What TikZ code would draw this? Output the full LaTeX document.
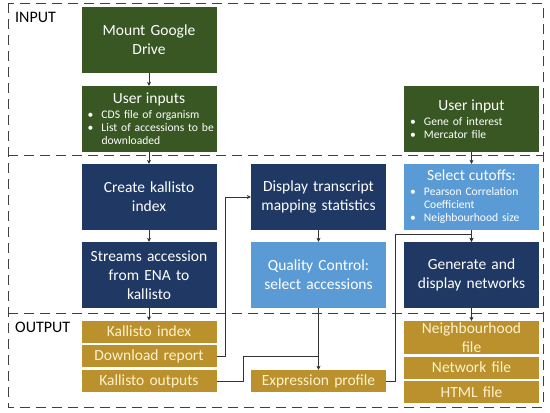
\documentclass[tikz,border=0pt]{standalone}
\usepackage{fontspec}
\setmainfont{Carlito}
\usetikzlibrary{arrows.meta,calc}
\definecolor{inputgreen}{RGB}{56,87,35}
\definecolor{procnavy}{RGB}{31,56,100}
\definecolor{qclight}{RGB}{91,155,213}
\definecolor{outgold}{RGB}{186,145,44}
\definecolor{goldtext}{RGB}{255,242,204}
\definecolor{framegray}{RGB}{64,64,64}
\newcommand{\bitem}[1]{\par\noindent\makebox[20pt][l]{\hspace{6pt}\textbullet}#1}
\newcommand{\bnext}[1]{\par\noindent\hspace*{20pt}#1}
\newcommand{\boxtitle}[1]{{\centering\fontsize{15.5}{19}\selectfont #1\par}\vspace{2pt}}

\begin{document}
\begin{tikzpicture}[x=1pt,y=-1pt,
box/.style={inner sep=0pt, minimum width=135pt, minimum height=66pt, text width=135pt,
align=center, text=white, font=\fontsize{15.5}{19}\selectfont},
greenbox/.style={box, fill=inputgreen},
navybox/.style={box, fill=procnavy},
lightbox/.style={box, fill=qclight},
listbox/.style={align=left, font=\fontsize{11.6}{13}\selectfont},
outbox/.style={box, fill=outgold, text=goldtext, minimum height=22pt},
arrow/.style={-{Stealth[length=4pt,width=4pt]}, line width=0.5pt, draw=black!80},
link/.style={line width=0.5pt, draw=black!80},
frame/.style={draw=framegray, line width=0.8pt, dash pattern=on 10pt off 6pt},
section/.style={font=\fontsize{16}{19}\selectfont, anchor=north west, inner sep=0pt}
]
\useasboundingbox (0,0) rectangle (550,413);

\draw[frame] (8,3) rectangle (543,407);
\draw[frame] (8,155) -- (543,155);
\draw[frame] (8,313) -- (543,313);

\node[section] (inlabel) at (15,12) {INPUT};
\node[section] (outlabel) at (15,322) {OUTPUT};

\node[greenbox] (mount) at (149,39.5) {Mount Google\\Drive};
\node[greenbox, listbox] (uinputs) at (149,119)
{\boxtitle{User inputs}\bitem{CDS file of organism}\bitem{List of accessions to be}\bnext{downloaded}};
\node[greenbox, listbox] (uinput) at (471.5,119)
{\boxtitle{User input}\bitem{Gene of interest}\bitem{Mercator file}};

\node[navybox] (index) at (149,197) {Create kallisto\\index};
\node[navybox] (streams) at (149,275) {Streams accession\\from ENA to\\kallisto};
\node[navybox] (mapstats) at (318.5,197) {Display transcript\\mapping statistics};
\node[lightbox] (qc) at (318.5,275) {Quality Control:\\select accessions};
\node[lightbox, listbox] (cutoffs) at (471.5,197)
{\boxtitle{Select cutoffs:}\bitem{Pearson Correlation}\bnext{Coefficient}\bitem{Neighbourhood size}};
\node[navybox] (networks) at (471.5,275) {Generate and\\display networks};

\node[outbox] (kindex) at (149,331.5) {Kallisto index};
\node[outbox] (dlreport) at (149,356) {Download report};
\node[outbox] (koutputs) at (149,381) {Kallisto outputs};
\node[outbox] (exprof) at (318.5,381) {Expression profile};
\node[outbox, minimum height=33pt] (nbhfile) at (471.5,337.5) {Neighbourhood\\file};
\node[outbox] (netfile) at (471.5,367.5) {Network file};
\node[outbox] (htmlfile) at (471.5,392) {HTML file};

\draw[arrow] (mount) -- (uinputs);
\draw[arrow] (uinputs) -- (index);
\draw[arrow] (index) -- (streams);
\draw[arrow] (streams) -- (kindex);
\draw[arrow] (dlreport.east) -- ++(9,0) |- (mapstats.west);
\draw[arrow] (mapstats) -- (qc);
\draw[arrow] (qc) -- (exprof);
\coordinate (qcjoin) at (qc.south |- dlreport.east);
\draw[link] (koutputs.east) -- ++(27,0) |- (qcjoin);
\coordinate (netjoin) at ($(cutoffs.south)+(0,4)$);
\draw[arrow] (exprof.east) -- ++(9,0) |- (netjoin) -- (networks.north);
\draw[arrow] (uinput) -- (cutoffs);
\draw[arrow] (cutoffs) -- (networks);
\draw[arrow] (networks) -- (nbhfile);

\end{tikzpicture}
\end{document}
